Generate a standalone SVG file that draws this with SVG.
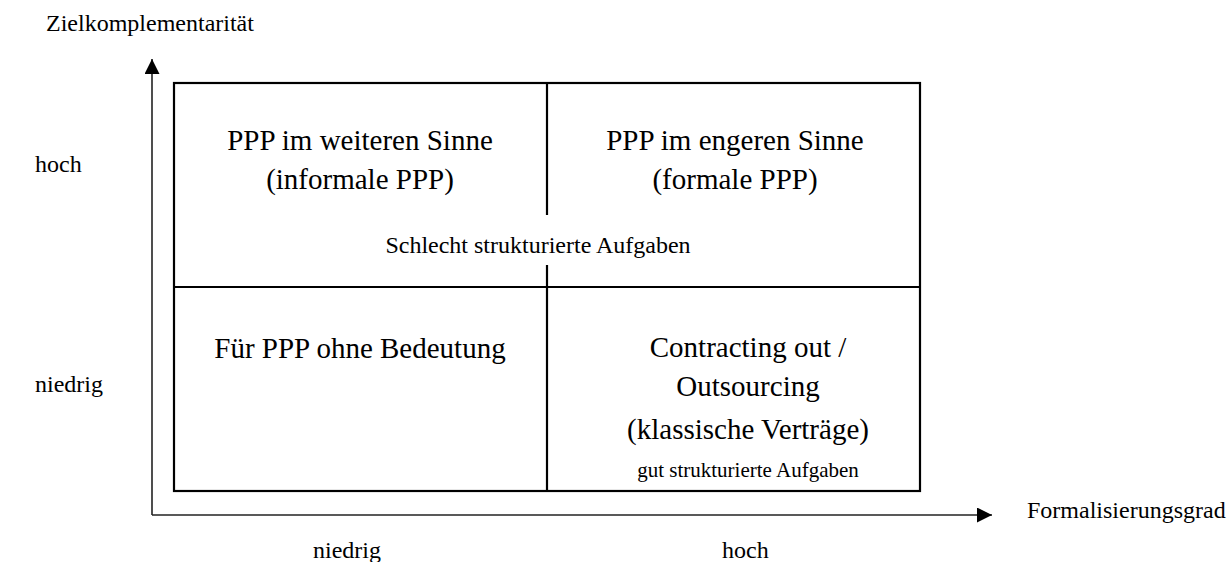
<svg xmlns="http://www.w3.org/2000/svg" width="1230" height="562" viewBox="0 0 1230 562">
  <style>
    text { font-family: "Liberation Serif", "Times New Roman", serif; fill: #000; }
    .big { font-size: 29px; text-anchor: middle; }
    .small { font-size: 24px; }
    .mid { text-anchor: middle; }
    .frame { fill: none; stroke: #000; stroke-width: 2.2; }
    .axis { fill: none; stroke: #222; stroke-width: 1.6; }
  </style>
  <defs>
    <marker id="arrow" viewBox="0 0 15 15" refX="15" refY="7.5" markerWidth="15" markerHeight="15" markerUnits="userSpaceOnUse" orient="auto">
      <path d="M0,0 L15,7.5 L0,15 Z" fill="#000"/>
    </marker>
  </defs>
  <rect width="1230" height="562" fill="#fff"/>

  <g id="connectors">
    <line class="axis" x1="152" y1="515" x2="152" y2="59" marker-end="url(#arrow)"/>
    <line class="axis" x1="152" y1="515" x2="992" y2="515" marker-end="url(#arrow)"/>
  </g>

  <g id="matrix">
    <rect class="frame" x="174" y="83" width="746" height="408"/>
    <line class="frame" x1="174" y1="287" x2="920" y2="287"/>
    <line class="frame" x1="547" y1="83" x2="547" y2="215"/>
    <line class="frame" x1="547" y1="265" x2="547" y2="491"/>
  </g>

  <g id="q-top-left">
    <text class="big" x="360" y="150">PPP im weiteren Sinne</text>
    <text class="big" x="360" y="189">(informale PPP)</text>
  </g>
  <g id="q-top-right">
    <text class="big" x="735" y="150">PPP im engeren Sinne</text>
    <text class="big" x="735" y="189">(formale PPP)</text>
  </g>
  <g id="label-schlecht">
    <text class="small mid" x="538" y="253">Schlecht strukturierte Aufgaben</text>
  </g>
  <g id="q-bottom-left">
    <text class="big" x="360" y="358">Für PPP ohne Bedeutung</text>
  </g>
  <g id="q-bottom-right">
    <text class="big" x="748" y="357">Contracting out /</text>
    <text class="big" x="748" y="396">Outsourcing</text>
    <text class="big" x="748" y="439">(klassische Verträge)</text>
    <text class="small mid" x="748" y="477" style="font-size:21px">gut strukturierte Aufgaben</text>
  </g>

  <g id="axis-labels">
    <text class="small" x="46" y="31">Zielkomplementarität</text>
    <text class="small" x="35" y="172">hoch</text>
    <text class="small" x="35" y="392">niedrig</text>
    <text class="small" x="1027" y="518">Formalisierungsgrad</text>
    <text class="small" x="313" y="558">niedrig</text>
    <text class="small" x="722" y="558">hoch</text>
  </g>
</svg>
